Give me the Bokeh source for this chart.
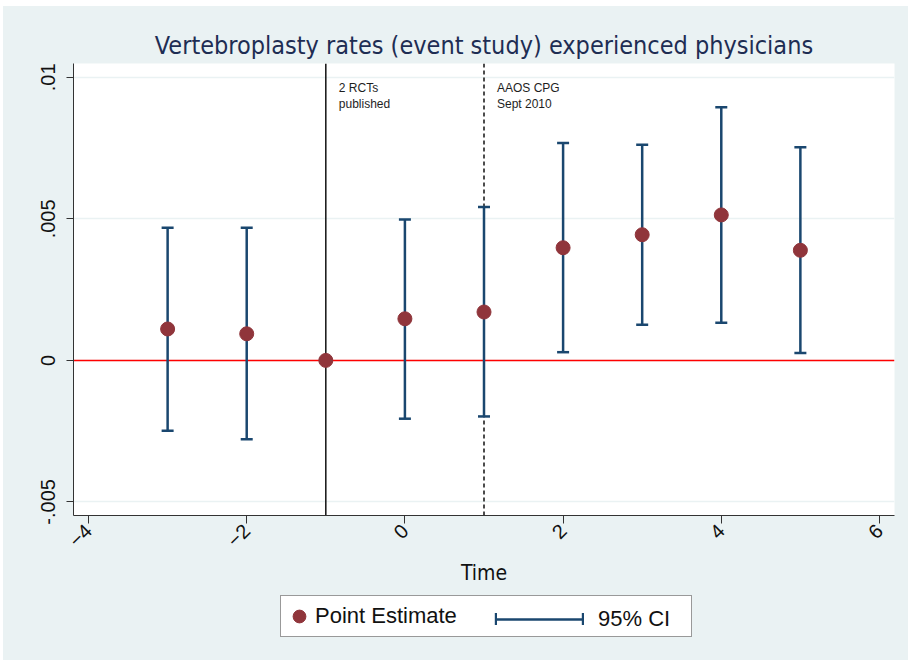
import math

from bokeh.core.properties import value
from bokeh.embed import file_html
from bokeh.layouts import column
from bokeh.models import (ColumnDataSource, FixedTicker, Legend, LegendItem,
                          Range1d, Span)
from bokeh.plotting import figure
from bokeh.resources import INLINE

# Event-study estimates by period relative to the reference period (-1)
periods = [-3, -2, -1, 0, 1, 2, 3, 4, 5]
estimate = [0.00111, 0.00094, 0.0, 0.00147, 0.00171, 0.00398, 0.00444, 0.00514, 0.00389]
ci_lower = [-0.00249, -0.00279, 0.0, -0.00206, -0.00198, 0.00029, 0.00126, 0.00133, 0.00026]
ci_upper = [0.00469, 0.00469, 0.0, 0.00498, 0.00542, 0.00768, 0.00762, 0.00894, 0.00753]

# Axis ticks and labels
x_ticks = [-4, -2, 0, 2, 4, 6]
y_ticks = [-0.005, 0.0, 0.005, 0.01]
y_tick_labels = ["-.005", "0", ".005", ".01"]

# Event markers
event_x = [-1, 1]
event_text = ["2 RCTs\npublished", "AAOS CPG\nSept 2010"]
event_dash = ["solid", "4 3"]

NAVY = "#1a476f"
MAROON = "#90353b"
BG = "#eaf2f3"
FONT = "Liberation Sans"
NARROW = "DejaVu Sans Condensed"

x_lo, x_hi = -4.19, 6.19
y_lo, y_hi = -0.00548, 0.01049

p = figure(
    width=905, height=586,
    x_range=Range1d(x_lo, x_hi), y_range=Range1d(y_lo, y_hi),
    output_backend="svg", toolbar_location=None,
    min_border_left=70, min_border_right=14, min_border_top=57, min_border_bottom=77,
    border_fill_color=BG, background_fill_color="white",
    title="Vertebroplasty rates (event study) experienced physicians",
)
p.margin = 0
p.outline_line_color = None

p.title.align = "center"
p.title.text_font = NARROW
p.title.text_font_size = "25px"
p.title.text_font_style = "normal"
p.title.text_color = "#1e2d53"
p.title.standoff = 7

# Axes
xa, ya = p.xaxis[0], p.yaxis[0]
xa.ticker = FixedTicker(ticks=x_ticks)
ya.ticker = FixedTicker(ticks=y_ticks)
ya.major_label_overrides = {t: s for t, s in zip(y_ticks, y_tick_labels)}
xa.axis_label = "Time"
xa.axis_label_text_font = NARROW
xa.axis_label_text_font_size = "21px"
xa.axis_label_text_font_style = "normal"
xa.axis_label_text_color = "#111111"
xa.axis_label_standoff = 4
xa.major_label_orientation = math.pi / 4
ya.major_label_orientation = "parallel"
for ax in (xa, ya):
    ax.axis_line_color = "#333333"
    ax.axis_line_width = 1
    ax.major_tick_line_color = "#333333"
    ax.major_tick_in = 0
    ax.minor_tick_line_color = None
    ax.major_label_text_font = FONT
    ax.major_label_text_font_size = "20px"
    ax.major_label_text_color = "#111111"
xa.major_tick_out = 8
ya.major_tick_out = 7
ya.major_label_standoff = 11
xa.major_label_standoff = 4

p.xgrid.grid_line_color = None
p.ygrid.grid_line_color = BG
p.ygrid.grid_line_width = 1.5

# Reference line at zero
p.add_layout(Span(location=0, dimension="width", line_color="#ff0000",
                  line_width=1.5, level="underlay"))

src = ColumnDataSource(dict(x=periods, est=estimate, lo=ci_lower, hi=ci_upper))

# Confidence intervals with caps
p.segment(x0="x", y0="lo", x1="x", y1="hi", source=src,
          line_color=NAVY, line_width=2.5)
p.scatter(x="x", y="hi", source=src, marker="dash", size=12,
          line_color=NAVY, line_width=2.5)
p.scatter(x="x", y="lo", source=src, marker="dash", size=12,
          line_color=NAVY, line_width=2.5)

# Event lines and their notes
for ex, dash in zip(event_x, event_dash):
    p.add_layout(Span(location=ex, dimension="height", line_color="#111111",
                      line_width=1.5, line_dash=dash, level="underlay"))
p.text(x=event_x, y=[y_hi] * len(event_x), text=event_text,
       x_offset=13, y_offset=17, text_baseline="top", text_align="left",
       text_font=value(FONT), text_font_size="12px", text_color="#1e1e1e",
       text_line_height=1.2)

# Point estimates
p.scatter(x="x", y="est", source=src, size=14, fill_color=MAROON,
          line_color=MAROON)

# Legend strip below the chart; its key renderers share the data but stay hidden
lg = figure(
    width=905, height=68, x_range=Range1d(x_lo, x_hi), y_range=Range1d(y_lo, y_hi),
    output_backend="svg", toolbar_location=None,
    x_axis_type=None, y_axis_type=None, min_border=0,
    border_fill_color=BG, background_fill_color=BG,
)
lg.margin = 0
lg.outline_line_color = None
lg.grid.visible = False

key_pts = lg.scatter(x="x", y="est", source=src, size=14,
                     fill_color=MAROON, line_color=MAROON, visible=False)
key_ci = lg.segment(x0="x", y0="lo", x1="x", y1="hi", source=src,
                    line_color=NAVY, line_width=2.5, visible=False)
key_cap = lg.vbar(x="x", top="hi", bottom="lo", width=0.1, source=src,
                  fill_color=NAVY, line_color=None, visible=False)

common = dict(orientation="horizontal", margin=0, inactive_fill_alpha=0.0,
              label_text_font=FONT, label_text_font_size="22px",
              label_text_color="#111111")
leg_pts = Legend(items=[LegendItem(label="Point Estimate", renderers=[key_pts])],
                 location=(207, 23), padding=2, glyph_width=32, glyph_height=36,
                 label_standoff=0, label_width=374, spacing=0,
                 border_line_color="#333333", border_line_width=1,
                 background_fill_color="white", background_fill_alpha=1.0,
                 **common)
leg_ci = Legend(items=[LegendItem(label="95% CI", renderers=[key_ci])],
                location=(423, 23), padding=2, glyph_width=87, glyph_height=36,
                label_standoff=15, spacing=0, border_line_color=None,
                background_fill_alpha=0.0, **common)
# End caps of the CI key, one at each end of its line
leg_cap = Legend(items=[LegendItem(label=" ", renderers=[key_cap]),
                        LegendItem(label=" ", renderers=[key_cap])],
                 location=(421, 34), orientation="horizontal", margin=0,
                 padding=2, glyph_width=3, glyph_height=15, label_standoff=0,
                 label_width=0, label_height=0, spacing=84,
                 inactive_fill_alpha=0.0, label_text_font_size="1px",
                 border_line_color=None, background_fill_alpha=0.0)
lg.add_layout(leg_pts, "center")
lg.add_layout(leg_ci, "center")
lg.add_layout(leg_cap, "center")

layout = column(p, lg, spacing=0, margin=(6, 0, 7, 3),
                styles={"background-color": BG})
open("out.html", "w").write(file_html(layout, INLINE))
